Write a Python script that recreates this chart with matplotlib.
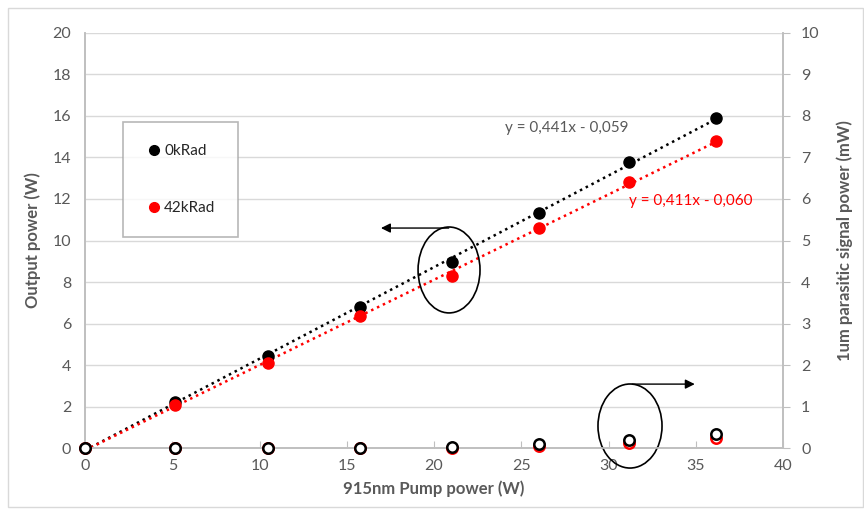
import numpy as np
import matplotlib
matplotlib.use("Agg")
from matplotlib import pyplot as plt
from matplotlib.patches import Ellipse, Rectangle
from matplotlib.lines import Line2D

plt.rcParams['font.family'] = ['Lato', 'DejaVu Sans']

# pump power (W)
pump = [0, 5.16, 10.5, 15.76, 21.03, 26.0, 31.17, 36.16]
# output power (W)
out_0k = [0, 2.22, 4.45, 6.78, 8.98, 11.33, 13.8, 15.9]
out_42k = [0, 2.05, 4.1, 6.38, 8.3, 10.58, 12.82, 14.8]
# 1um parasitic power (mW)
par_0k = [0, 0, 0, 0.01, 0.03, 0.09, 0.19, 0.33]
par_42k = [0, 0, 0, 0, 0.01, 0.04, 0.11, 0.23]

labels = ["0kRad", "42kRad"]
eq_0k = "y = 0,441x - 0,059"
eq_42k = "y = 0,411x - 0,060"

GRAY = "#595959"
GRID = "#d9d9d9"
SPINE = "#bfbfbf"

fig = plt.figure(figsize=(8.64, 5.09), dpi=100)
fig.patches.append(Rectangle((8/864, 2/509), 855/864, 499/509, transform=fig.transFigure,
                             fill=False, edgecolor=GRID, lw=1))
ax = fig.add_axes([0.0984, 0.1198, 0.9063 - 0.0984, 0.9352 - 0.1198])
ax2 = ax.twinx()

# trend lines
xx = np.array([0, pump[-1]])
for ys, c in [(out_0k, "black"), (out_42k, "red")]:
    k, b = np.polyfit(pump, ys, 1)
    ax.plot(xx, k * xx + b, ls=(0, (1, 1.6)), color=c, lw=1.8, zorder=2)

ax.plot(pump, out_0k, 'o', color='black', ms=8, zorder=4)
ax.plot(pump, out_42k, 'o', color='red', ms=8, zorder=4)

ax2.plot(pump, par_42k, 'o', mfc='white', mec='red', mew=1.8, ms=7.5, zorder=3, clip_on=False)
ax2.plot(pump, par_0k, 'o', mfc='white', mec='black', mew=1.8, ms=7.5, zorder=4, clip_on=False)

ax.set_xlim(0, 40)
ax.set_ylim(0, 20)
ax2.set_ylim(0, 10)
ax.set_xticks(range(0, 41, 5))
ax.set_yticks(range(0, 21, 2))
ax2.set_yticks(range(0, 11, 1))

ax.grid(axis='y', color=GRID, lw=1)
ax.set_axisbelow(True)
for a in (ax, ax2):
    a.spines['top'].set_visible(False)
    for s in ('left', 'right', 'bottom'):
        a.spines[s].set_color(SPINE)
        a.spines[s].set_linewidth(1.2)
ax.tick_params(axis='y', length=0, labelsize=11.5, labelcolor=GRAY, pad=10)
ax.tick_params(axis='x', direction='in', length=5, color=SPINE, labelsize=11.5, labelcolor=GRAY, pad=8)
ax2.tick_params(axis='y', length=5, color=SPINE, labelsize=11.5, labelcolor=GRAY, pad=8)

ax.set_xlabel("915nm Pump power (W)", fontsize=12, fontweight='bold', color=GRAY, labelpad=5)
ax.set_ylabel("Output power (W)", fontsize=12, fontweight='bold', color=GRAY, labelpad=8)
ax2.set_ylabel("1um parasitic signal power (mW)", fontsize=12, fontweight='bold', color=GRAY, labelpad=12)

ax.text(27.6, 15.4, eq_0k, color=GRAY, fontsize=11, ha='center', va='center')
ax.text(34.7, 11.9, eq_42k, color='red', fontsize=11, ha='center', va='center')

# ellipses and arrows
ax.add_patch(Ellipse((20.86, 8.58), 3.55, 4.14, fill=False, ec='black', lw=1.2, zorder=5))
ax.annotate("", xy=(16.8, 10.6), xytext=(21.0, 10.6),
            arrowprops=dict(arrowstyle='-|>', color='black', lw=1, mutation_scale=14))
ax.add_patch(Ellipse((31.23, 1.06), 3.67, 4.05, fill=False, ec='black', lw=1.2, zorder=5, clip_on=False))
ax.annotate("", xy=(35.1, 3.08), xytext=(31.2, 3.08),
            arrowprops=dict(arrowstyle='-|>', color='black', lw=1, mutation_scale=14))

handles = [Line2D([], [], ls='none', marker='o', color='black', ms=7),
           Line2D([], [], ls='none', marker='o', color='red', ms=7)]
leg = ax.legend(handles, labels, loc='upper left', bbox_to_anchor=(123/864, 1 - 122/509),
                bbox_transform=fig.transFigure, frameon=True, fancybox=False,
                edgecolor='#a6a6a6', fontsize=11, labelspacing=2.8, borderpad=1.45,
                handletextpad=0.05, handlelength=1.2, borderaxespad=0)
leg.get_frame().set_linewidth(1.2)
for t in leg.get_texts():
    t.set_color('#262626')

fig.savefig("out.png", dpi=100)
